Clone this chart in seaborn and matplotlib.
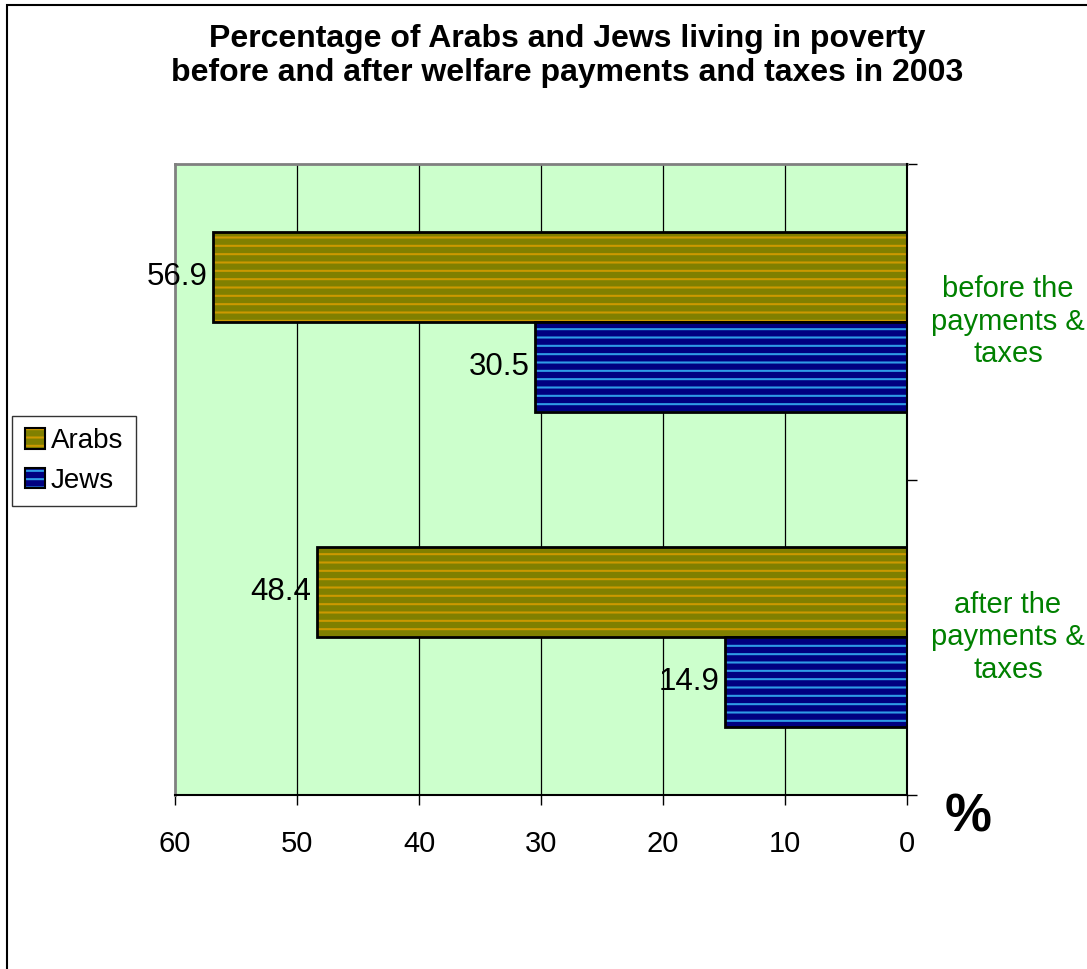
import matplotlib
matplotlib.use("Agg")
import matplotlib.pyplot as plt
import matplotlib.colors as mcolors
from matplotlib.patches import Patch, Rectangle
import seaborn as sns
import pandas as pd

# ---- data ----
categories = ["before the\npayments &\ntaxes", "after the\npayments &\ntaxes"]
groups = ["Arabs", "Jews"]
arabs = [56.9, 48.4]
jews = [30.5, 14.9]
xticks = [60, 50, 40, 30, 20, 10, 0]
title = "Percentage of Arabs and Jews living in poverty\nbefore and after welfare payments and taxes in 2003"

df = pd.DataFrame({
    "category": categories * 2,
    "group": [groups[0]] * 2 + [groups[1]] * 2,
    "value": arabs + jews,
})

face = {"Arabs": "#808000", "Jews": "#000080"}
stripe = {"Arabs": "#CC9900", "Jews": "#2E9BE6"}

sns.set_style("white")
plt.rcParams["font.family"] = ["Liberation Sans", "DejaVu Sans"]
plt.rcParams["text.color"] = "black"
plt.rcParams["xtick.color"] = "black"
plt.rcParams["ytick.color"] = "black"
plt.rcParams["hatch.linewidth"] = 1.5

fig = plt.figure(figsize=(10.87, 9.69), dpi=100)
ax = fig.add_axes([175 / 1087, 1 - 795 / 969, 732 / 1087, 631 / 969])
ax.set_facecolor("#CCFFCC")

sns.barplot(data=df, x="value", y="category", hue="group", orient="h",
            palette=face, width=0.572, dodge=True, legend=False, ax=ax,
            saturation=1, edgecolor="black", linewidth=2)

ax.set_xlim(60, 0)
ax.set_ylim(1.5, -0.5)
ax.set_xticks(xticks)
ax.set_xticklabels([str(t) for t in xticks], fontsize=21, color="black")
ax.set_xlabel("")
ax.set_ylabel("")

# hatching
for cont, g in zip(ax.containers, groups):
    for p in cont:
        p.set_hatch("--")
        p.set_edgecolor("black")
        p._hatch_color = mcolors.to_rgba(stripe[g])
        p.set_zorder(3)
    vals = arabs if g == "Arabs" else jews
    ax.bar_label(cont, labels=[f"{v:.1f}" for v in vals], padding=4,
                 fontsize=22.5, color="black", zorder=4)

# gridlines
ax.grid(False)
for t in xticks[1:-1]:
    ax.axvline(t, color="black", lw=0.9, zorder=1)

# spines
for s in ["top", "left"]:
    ax.spines[s].set_color("#808080")
    ax.spines[s].set_linewidth(2)
for s in ["bottom", "right"]:
    ax.spines[s].set_color("black")
    ax.spines[s].set_linewidth(1.5)
    ax.spines[s].set_zorder(5)

ax.yaxis.tick_right()
ax.set_yticks([-0.5, 0.5, 1.5])
ax.set_yticklabels(["", "", ""])
ax.tick_params(axis="y", which="both", right=True, left=False, length=7,
               width=1, color="black", direction="out")
ax.tick_params(axis="x", bottom=True, length=7, width=1, color="black",
               direction="out", pad=18)

# category labels on the right
for i, c in enumerate(categories):
    ax.text(1.138, i, c, transform=ax.get_yaxis_transform(), ha="center",
            va="center", color="#008000", fontsize=21, linespacing=1.2)

# title
fig.text(567 / 1087, 1 - 56 / 969, title, ha="center", va="center",
         fontsize=23, fontweight="bold", linespacing=1.2, color="black")

# percent sign
fig.text(968 / 1087, 1 - 817 / 969, "%", ha="center", va="center",
         fontsize=38, fontweight="bold", color="black")

# legend
handles = []
for g in groups:
    h = Patch(facecolor=face[g], edgecolor="black", hatch="--", linewidth=1.5)
    h._hatch_color = mcolors.to_rgba(stripe[g])
    handles.append(h)
leg = fig.legend(handles, groups, loc="center left",
                 bbox_to_anchor=(12 / 1087, 1 - 461 / 969), fontsize=20,
                 frameon=True, fancybox=False, edgecolor="black",
                 handlelength=0.75, handleheight=0.75, handletextpad=0.2,
                 borderpad=0.45, labelspacing=0.5, borderaxespad=0)
leg.get_frame().set_linewidth(1)
for t in leg.get_texts():
    t.set_color("black")

# figure border (left/top visible, others clipped)
fig.patches.append(Rectangle((7 / 1087, -0.02), 1.1, 1 - 5 / 969 + 0.02,
                             transform=fig.transFigure, fill=False,
                             edgecolor="black", linewidth=1.5))

fig.savefig("out.png", dpi=100)
